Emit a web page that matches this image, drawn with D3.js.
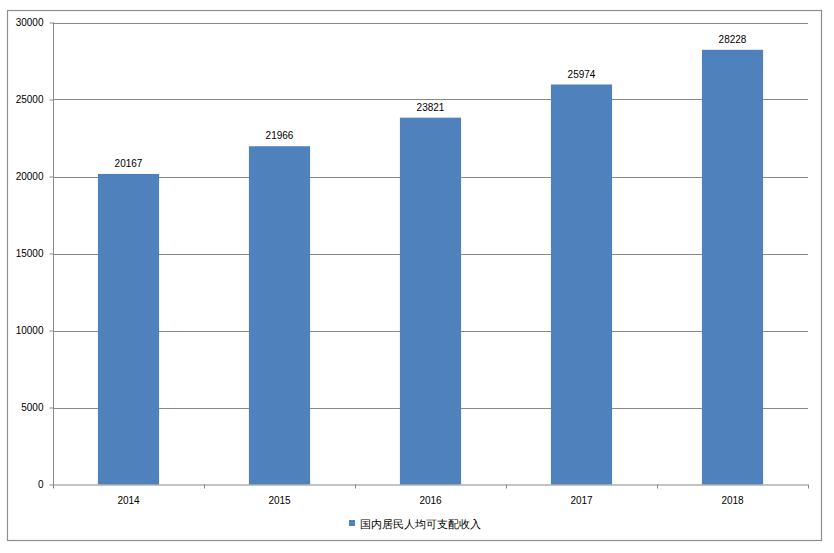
<!DOCTYPE html>
<html>
<head>
<meta charset="utf-8">
<script src="https://cdn.jsdelivr.net/npm/d3@7"></script>
<style>
  body { margin: 0; background: #fff; }
  text { font-family: "Liberation Sans", Arial, sans-serif; }
</style>
</head>
<body>
<div id="chart"></div>
<script>
// data
const years = ['2014', '2015', '2016', '2017', '2018']
const income = [20167, 21966, 23821, 25974, 28228]
const yTicks = [0, 5000, 10000, 15000, 20000, 25000, 30000]
const seriesName = '国内居民人均可支配收入'

const width = 834
const height = 553
const plot = { left: 53, right: 808, top: 22.5, bottom: 484.5 }
const barColor = '#4f81bd'
const gridColor = '#898989'

const svg = d3.select('#chart')
    .append('svg').attr('width', width).attr('height', height)

// outer frame
svg.append('rect')
    .attr('x', 7.5).attr('y', 10.5)
    .attr('width', 814).attr('height', 530)
    .attr('fill', '#fff')
    .attr('stroke', '#8e8e8e')
    .attr('stroke-width', 1.2)

// scales
const x = d3.scaleBand()
    .domain(years)
    .range([plot.left, plot.right])
const y = d3.scaleLinear()
    .domain([0, 30000])
    .range([plot.bottom, plot.top])

const barWidth = x.bandwidth() * 0.405

// gridlines
svg.append('g')
    .selectAll('line')
    .data(yTicks.filter(d => d > 0))
    .join('line')
    .attr('x1', plot.left).attr('x2', plot.right)
    .attr('y1', d => Math.round(y(d)) + 0.5).attr('y2', d => Math.round(y(d)) + 0.5)
    .attr('stroke', gridColor)

// y axis
const yAxis = d3.axisLeft(y)
    .tickValues(yTicks)
    .tickFormat(d3.format('d'))
    .tickSize(4)
    .tickPadding(6)
svg.append('g')
    .attr('transform', `translate(${plot.left + 0.5},0)`)
    .call(yAxis)
    .call(g => g.select('.domain').attr('stroke', gridColor).attr('d', `M-0,${plot.top}V${plot.bottom + 4}`))
    .call(g => g.selectAll('.tick line').attr('stroke', gridColor))
    .call(g => g.selectAll('.tick text')
        .attr('font-size', 10)
        .attr('fill', '#000')
        .attr('font-family', '"Liberation Sans", Arial, sans-serif'))

// bars
svg.append('g')
    .selectAll('rect')
    .data(income)
    .join('rect')
    .attr('x', (d, i) => x(years[i]) + x.bandwidth() / 2 - barWidth / 2)
    .attr('y', d => y(d))
    .attr('width', barWidth)
    .attr('height', d => y(0) - y(d))
    .attr('fill', barColor)

// value labels
svg.append('g')
    .selectAll('text')
    .data(income)
    .join('text')
    .attr('x', (d, i) => x(years[i]) + x.bandwidth() / 2)
    .attr('y', d => y(d) - 7)
    .attr('text-anchor', 'middle')
    .attr('font-size', 10)
    .text(d => d)

// x axis
const xAxis = d3.axisBottom(x)
    .tickSize(0)
    .tickPadding(12)
svg.append('g')
    .attr('transform', `translate(0,${plot.bottom + 0.5})`)
    .call(xAxis)
    .call(g => g.select('.domain').attr('stroke', gridColor).attr('d', `M${plot.left},0H${plot.right}`))
    .call(g => g.selectAll('.tick text')
        .attr('font-size', 10)
        .attr('fill', '#000')
        .attr('font-family', '"Liberation Sans", Arial, sans-serif'))

// category boundary ticks
svg.append('g')
    .selectAll('line')
    .data(years.slice(1).concat(['end']))
    .join('line')
    .attr('x1', d => Math.round(d === 'end' ? plot.right : x(d)) + 0.5)
    .attr('x2', d => Math.round(d === 'end' ? plot.right : x(d)) + 0.5)
    .attr('y1', plot.bottom)
    .attr('y2', plot.bottom + 4)
    .attr('stroke', gridColor)

// legend
const legend = svg.append('g').attr('transform', 'translate(349,520)')
legend.append('rect')
    .attr('width', 6).attr('height', 6)
    .attr('fill', barColor)
legend.append('text')
    .attr('x', 11).attr('y', 7.5)
    .attr('font-size', 11)
    .attr('font-family', '"Noto Sans CJK SC", sans-serif')
    .text(seriesName)
</script>
</body>
</html>
